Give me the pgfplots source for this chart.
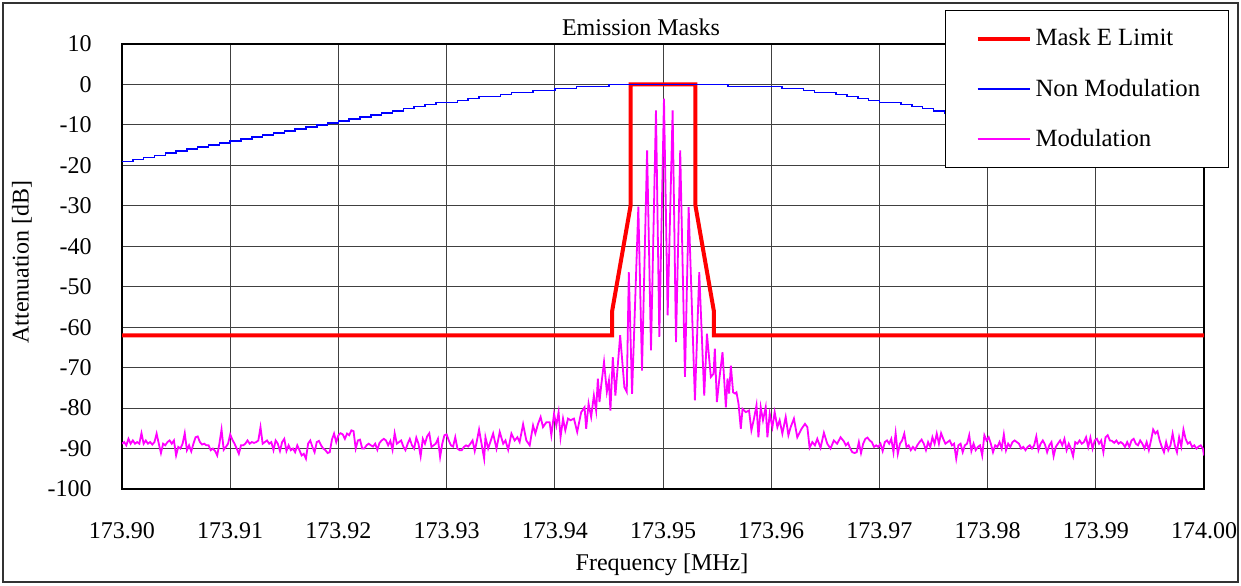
\documentclass[border=0pt]{standalone}
\usepackage{fontspec}
\setmainfont{Liberation Serif}
\usepackage{pgfplots}
\pgfplotsset{compat=1.18}
\usepackage{pgfplotstable}
\definecolor{maskred}{RGB}{255,0,0}
\definecolor{nonblue}{RGB}{0,0,255}
\definecolor{modmag}{RGB}{255,0,255}

% x = offset from 173.900 MHz in kHz, y = attenuation in dB
\pgfplotstableread{
x y
0.0 -88.8
0.2 -88.4
0.4 -89.2
0.6 -87.6
0.8 -88.8
1.0 -88.0
1.2 -88.8
1.4 -88.4
1.6 -88.8
1.8 -86.2
2.0 -88.8
2.2 -88.0
2.4 -88.8
2.6 -88.4
2.8 -89.0
3.0 -88.4
3.2 -86.3
3.4 -88.8
3.6 -91.1
3.8 -88.8
4.0 -89.2
4.2 -88.4
4.4 -88.0
4.6 -88.8
4.8 -88.0
5.0 -91.7
5.2 -89.6
5.4 -90.0
5.6 -88.8
5.8 -86.2
6.0 -90.4
6.2 -89.2
6.4 -90.7
6.6 -88.8
6.8 -87.2
7.0 -87.0
7.2 -88.4
7.4 -89.0
7.6 -88.8
7.8 -89.2
8.0 -89.2
8.2 -90.4
8.4 -90.0
8.6 -90.6
8.8 -91.7
9.0 -88.8
9.2 -85.3
9.4 -90.3
9.6 -89.6
9.8 -88.8
10.0 -86.5
10.2 -87.8
10.4 -88.8
10.6 -90.0
10.8 -91.3
11.0 -89.2
11.2 -89.2
11.4 -88.8
11.6 -88.0
11.8 -88.8
12.0 -88.4
12.2 -88.6
12.4 -88.4
12.6 -88.0
12.8 -84.7
13.0 -88.8
13.2 -88.4
13.4 -88.0
13.6 -88.8
13.8 -88.4
14.0 -90.4
14.2 -88.0
14.4 -88.8
14.6 -90.6
14.8 -88.4
15.0 -87.6
15.2 -90.6
15.4 -89.2
15.6 -90.4
15.8 -90.0
16.0 -90.9
16.2 -89.2
16.4 -90.4
16.6 -91.7
16.8 -91.3
17.0 -92.5
17.2 -88.8
17.4 -88.0
17.6 -89.6
17.8 -90.9
18.0 -88.4
18.2 -88.1
18.4 -89.2
18.6 -90.0
18.8 -90.4
19.0 -91.1
19.2 -90.9
19.4 -87.8
19.6 -86.3
19.8 -88.4
20.0 -86.7
20.2 -86.2
20.4 -86.5
20.6 -87.6
20.8 -86.3
21.0 -86.7
21.2 -85.5
21.4 -85.7
21.6 -90.0
21.8 -88.0
22.0 -87.8
22.2 -90.0
22.4 -90.0
22.6 -89.2
22.8 -88.8
23.0 -89.2
23.2 -89.5
23.4 -88.8
23.6 -90.3
23.8 -88.6
24.0 -88.0
24.2 -87.6
24.4 -88.0
24.6 -89.2
24.8 -88.1
25.0 -90.3
25.2 -86.2
25.4 -88.8
25.6 -88.4
25.8 -88.0
26.0 -89.5
26.2 -90.4
26.4 -88.8
26.6 -87.6
26.8 -89.2
27.0 -90.0
27.2 -87.3
27.4 -88.8
27.6 -91.9
27.8 -87.6
28.0 -88.8
28.2 -87.0
28.4 -86.2
28.6 -89.6
28.8 -89.2
29.0 -88.8
29.2 -87.6
29.4 -92.1
29.6 -88.8
29.8 -86.7
30.0 -86.5
30.2 -88.0
30.4 -89.2
30.6 -89.5
30.8 -87.2
31.0 -90.0
31.2 -90.4
31.4 -90.4
31.6 -89.6
31.8 -89.2
32.0 -89.5
32.2 -88.8
32.4 -88.0
32.6 -90.6
32.8 -88.1
33.0 -85.3
33.47 -92.5
33.59 -87.2
33.84 -90.0
34.30 -86.3
34.61 -90.0
34.91 -85.9
35.23 -88.8
35.44 -88.0
35.69 -90.3
35.99 -86.3
36.29 -88.0
36.54 -87.2
36.75 -88.4
37.07 -84.0
37.37 -88.0
37.68 -89.2
37.99 -84.3
38.20 -86.3
38.45 -83.9
38.69 -82.2
38.91 -84.7
39.22 -83.5
39.52 -83.5
39.68 -86.7
39.93 -81.4
40.14 -84.3
40.35 -81.0
40.53 -87.2
40.76 -82.6
40.97 -85.5
41.22 -82.6
41.46 -83.0
41.77 -82.6
42.07 -85.9
42.44 -81.0
42.75 -79.8
42.90 -85.1
43.12 -78.9
43.36 -82.2
43.61 -76.9
43.82 -80.6
43.98 -72.7
44.13 -78.5
44.29 -74.4
44.55 -68.6
44.81 -76.0
45.00 -73.2
45.14 -80.6
45.36 -67.4
45.60 -76.9
46.04 -62.0
46.43 -74.8
46.65 -76.0
46.84 -46.4
47.14 -76.5
47.72 -30.2
48.06 -70.7
48.53 -16.3
48.89 -65.7
49.35 -6.4
49.66 -62.4
50.09 -3.5
50.43 -57.1
50.89 -6.4
51.20 -63.7
51.59 -16.3
52.03 -72.3
52.37 -30.3
52.95 -78.1
53.35 -46.4
53.81 -76.9
54.06 -61.6
54.42 -72.3
54.67 -71.5
54.79 -65.3
54.98 -78.5
55.19 -73.2
55.50 -66.2
55.81 -79.8
55.96 -72.7
56.11 -76.4
56.27 -69.5
56.48 -76.1
56.66 -76.4
56.79 -76.1
56.98 -78.9
57.19 -85.1
57.35 -80.2
57.65 -81.0
57.95 -80.6
58.17 -85.5
58.41 -82.6
58.64 -79.3
58.82 -87.2
59.03 -79.8
59.24 -83.0
59.49 -79.8
59.65 -87.2
59.86 -81.4
60.11 -84.7
60.32 -81.0
60.57 -84.7
60.78 -83.0
61.03 -86.3
61.34 -82.2
61.59 -86.7
61.80 -84.7
62.10 -82.6
62.41 -87.2
62.81 -85.1
63.12 -83.9
63.34 -84.7
63.55 -89.8
63.80 -88.4
64.04 -89.2
64.26 -87.6
64.56 -89.8
64.87 -86.1
65.18 -88.8
65.48 -90.0
65.79 -88.0
66.10 -88.8
66.41 -87.2
66.71 -88.2
66.9 -89.2
67.1 -88.6
67.3 -90.0
67.5 -90.9
67.7 -91.1
67.9 -90.9
68.1 -88.4
68.3 -91.1
68.5 -88.8
68.7 -87.6
68.9 -87.3
69.1 -88.0
69.3 -88.4
69.5 -89.6
69.7 -89.2
69.9 -89.6
70.1 -88.8
70.3 -90.6
70.5 -88.4
70.7 -88.0
70.9 -88.8
71.1 -87.6
71.3 -90.9
71.5 -86.2
71.7 -91.3
71.9 -88.8
72.1 -88.0
72.3 -86.3
72.5 -89.6
72.7 -89.2
72.9 -90.4
73.1 -89.6
73.3 -90.3
73.5 -89.2
73.7 -88.4
73.9 -87.8
74.1 -88.8
74.3 -90.4
74.5 -88.4
74.7 -89.6
74.9 -87.2
75.1 -88.8
75.3 -86.3
75.5 -88.8
75.7 -86.2
75.9 -87.6
76.1 -88.8
76.3 -88.4
76.5 -88.0
76.7 -89.2
76.9 -88.8
77.1 -92.5
77.3 -89.2
77.5 -88.8
77.7 -90.9
77.9 -89.2
78.1 -88.8
78.3 -86.7
78.5 -90.6
78.7 -88.8
78.9 -90.4
79.1 -89.6
79.3 -89.2
79.5 -91.7
79.7 -86.7
79.9 -88.0
80.1 -87.2
80.3 -88.8
80.5 -90.9
80.7 -89.2
80.9 -89.6
81.1 -88.4
81.3 -90.0
81.5 -86.5
81.7 -90.4
81.9 -88.8
82.1 -89.6
82.3 -88.4
82.5 -88.0
82.7 -88.4
82.9 -88.8
83.1 -90.0
83.3 -89.6
83.5 -90.4
83.7 -89.6
83.9 -89.2
84.1 -90.0
84.3 -89.2
84.5 -87.0
84.7 -90.4
84.9 -88.8
85.1 -88.0
85.3 -89.0
85.5 -90.9
85.7 -89.2
85.9 -88.4
86.1 -91.9
86.3 -89.6
86.5 -88.8
86.7 -88.0
86.9 -89.2
87.1 -87.6
87.3 -90.4
87.5 -88.8
87.7 -90.0
87.9 -91.9
88.1 -88.4
88.3 -88.8
88.5 -88.0
88.7 -88.8
88.9 -88.4
89.1 -87.2
89.3 -89.6
89.5 -87.3
89.7 -90.0
89.9 -88.0
90.1 -87.6
90.3 -88.8
90.5 -88.0
90.7 -90.9
90.9 -87.2
91.1 -86.7
91.3 -88.0
91.5 -88.1
91.7 -88.6
91.9 -88.0
92.1 -88.8
92.3 -88.4
92.5 -88.8
92.7 -89.6
92.9 -88.4
93.1 -89.6
93.3 -88.0
93.5 -87.6
93.7 -88.8
93.9 -89.2
94.1 -88.0
94.3 -88.8
94.5 -90.0
94.7 -88.4
94.9 -90.4
95.1 -88.0
95.3 -85.3
95.5 -86.3
95.7 -85.7
95.9 -88.0
96.1 -89.6
96.3 -90.9
96.5 -88.4
96.7 -90.4
96.9 -89.2
97.1 -86.3
97.3 -89.2
97.5 -90.9
97.7 -87.2
97.9 -89.5
98.1 -85.3
98.3 -87.6
98.5 -88.8
98.7 -88.4
98.9 -89.6
99.1 -89.2
99.3 -90.0
99.5 -89.5
99.7 -89.2
99.9 -90.0
100.0 -91.7
}\modtable

\begin{document}
\begin{tikzpicture}[font=\fontsize{12}{14.4}\selectfont]
\useasboundingbox (0,0) rectangle (620.5pt,-292.5pt);
\draw[line width=0.6pt, black!80] (1.5pt,-1.5pt) rectangle (619pt,-291pt);
\begin{axis}[
  at={(61pt,-244.5pt)}, anchor=south west,
  scale only axis, width=541pt, height=222.5pt,
  xmin=0, xmax=100, ymin=-100, ymax=10,
  xtick={0,10,...,100},
  xticklabels={173.90,173.91,173.92,173.93,173.94,173.95,173.96,173.97,173.98,173.99,174.00},
  ytick={-100,-90,...,10},
  grid=major,
  grid style={black!75, line width=0.5pt},
  major tick length=0pt,
  axis line style={black, line width=0.6pt},
  /pgf/number format/assume math mode=true,
  yticklabel style={anchor=east, inner sep=0pt, xshift=-15pt},
  xticklabel style={anchor=north, inner sep=0pt, yshift=-16.5pt},
  legend style={at={(0.7606,1.0764)}, anchor=north west, draw=black, line width=0.6pt,
    fill=white, inner xsep=12pt, inner ysep=7pt, row sep=11pt,
    font=\fontsize{12.4}{14.4}\selectfont},
  legend cell align=left,
  legend image code/.code={\path (0pt,0pt); \draw[#1] (3pt,0pt) -- (29pt,0pt);},
]
\addplot[maskred, line width=2pt] coordinates {
(0,-62) (45.3,-62) (45.3,-56) (47,-30) (47,0) (53,0) (53,-30) (54.7,-56) (54.7,-62) (100,-62)};
\addlegendentry{Mask E Limit}
\addplot[nonblue, line width=0.75pt, const plot] coordinates {
(0,-19.0) (1,-18.5) (2,-18.0) (3,-17.5) (4,-17.0) (5,-16.5) (6,-16.0) (7,-15.5) (8,-15.0) (9,-14.5)
(10,-14.0) (11,-13.5) (12,-13.0) (13,-12.5) (14,-12.0) (15,-11.5) (16,-11.0) (17,-10.5) (18,-10.0) (19,-9.5)
(20,-9.0) (21,-8.5) (22,-8.0) (23,-7.5) (24,-7.0) (25,-6.5) (26,-6.0) (27,-5.5) (28,-5.0) (29,-4.5)
(30,-4.5) (31,-4.0) (32,-3.5) (33,-3.0) (34,-3.0) (35,-2.5) (36,-2.0) (37,-2.0) (38,-1.5) (39,-1.5)
(40,-1.0) (41,-1.0) (42,-0.5) (43,-0.5) (44,-0.5) (45,0) (46,0) (47,0) (48,0) (49,0)
(50,0) (51,0) (52,0) (53,0) (54,0) (55,0) (56,-0.5) (57,-0.5) (58,-0.5) (59,-0.5)
(60,-0.5) (61,-1.0) (62,-1.0) (63,-1.5) (64,-2.0) (65,-2.0) (66,-2.5) (67,-3.0) (68,-3.5) (69,-4.0)
(70,-4.5) (71,-4.5) (72,-5.0) (73,-5.5) (74,-6.0) (75,-6.5) (76,-7.0) (77,-7.5) (78,-8.0) (79,-8.5)
(80,-9.0) (81,-9.5) (82,-10.0) (83,-10.5) (84,-11.0) (85,-11.5) (86,-12.0) (87,-12.5) (88,-13.0) (89,-13.5)
(90,-14.0) (91,-14.5) (92,-15.0) (93,-15.5) (94,-16.0) (95,-16.5) (96,-17.0) (97,-17.5) (98,-18.0) (99,-18.5)
(100,-19.0)};
\addlegendentry{Non Modulation}
\addplot[modmag, line width=0.9pt] table[x=x, y=y] {\modtable};
\addlegendentry{Modulation}
\end{axis}
\node at (320.5pt,-13.5pt) {Emission Masks};
\node[anchor=base] at (331pt,-285pt) {Frequency [MHz]};
\node[rotate=90] at (11pt,-131pt) {Attenuation [dB]};
\end{tikzpicture}
\end{document}
